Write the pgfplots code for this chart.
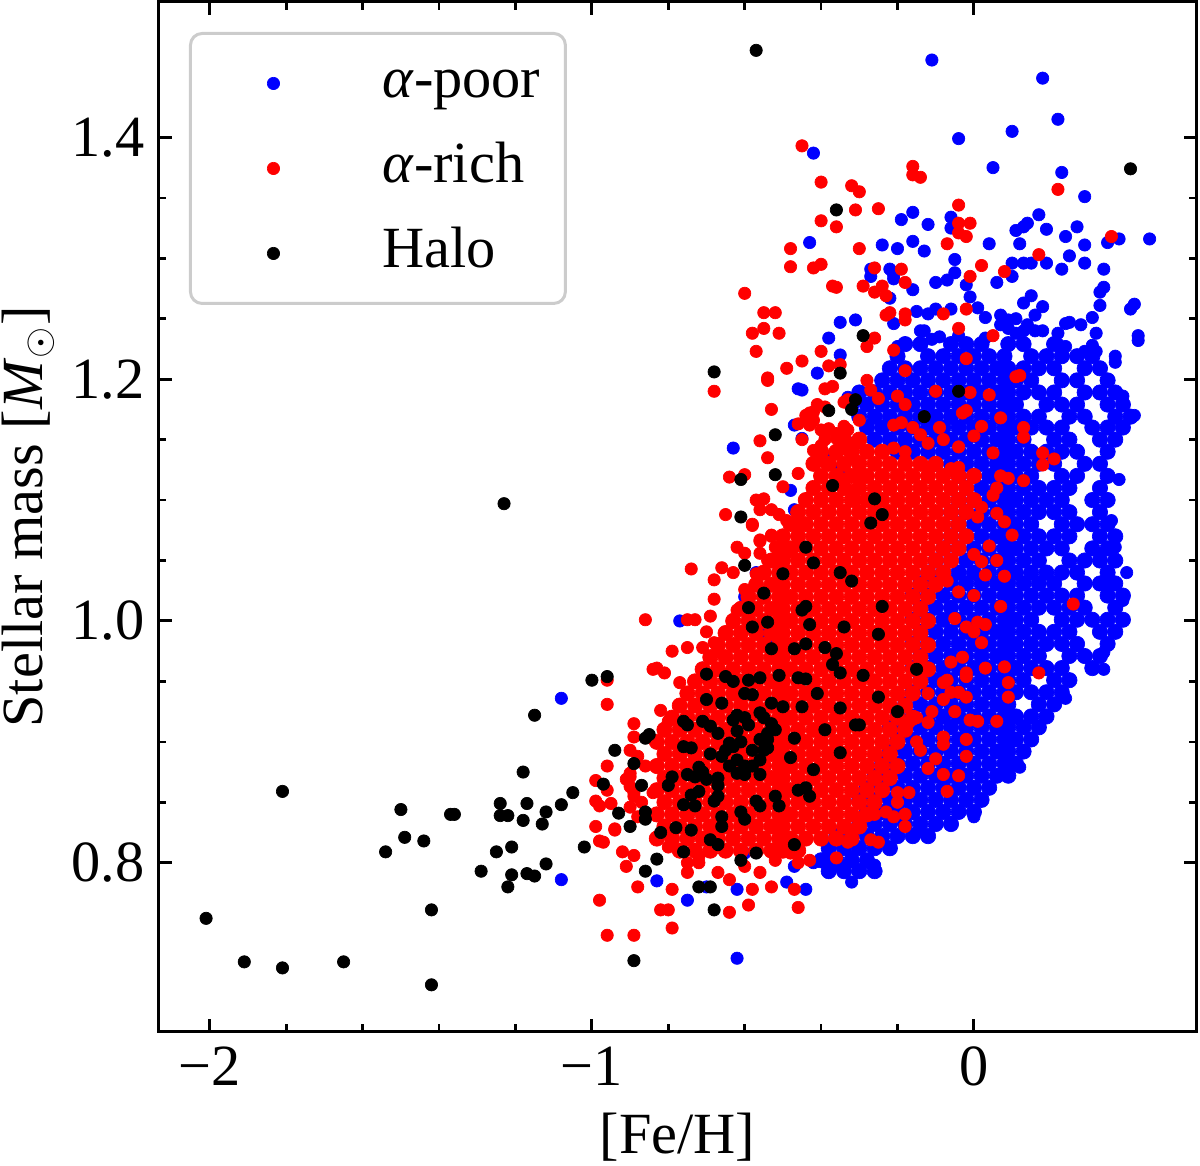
\documentclass[border=0pt]{standalone}
\usepackage{pgfplots}
\pgfplotsset{compat=1.18}
\usepackage{fontspec}
\setmainfont{Liberation Serif}
\definecolor{legedge}{gray}{0.8}
\begin{document}
\fontsize{17.5}{21}\selectfont
\begin{tikzpicture}
\begin{axis}[
  scale only axis, width=311.6pt, height=309pt,
  xmin=-2.135, xmax=0.584, ymin=0.660, ymax=1.512,
  xtick={-2,-1,0}, xticklabels={−2,−1,0},
  ytick={0.8,1.0,1.2,1.4}, yticklabels={0.8,1.0,1.2,1.4},
  minor x tick num=4, minor y tick num=3,
  tick align=inside, tick pos=both,
  major tick length=4pt, minor tick length=2.4pt,
  every major tick/.append style={line width=0.9pt, black},
  every minor tick/.append style={line width=0.75pt, black},
  axis line style={line width=0.9pt},
  xticklabel style={inner sep=0pt, anchor=north, yshift=-4.2pt},
  yticklabel style={inner sep=0pt, anchor=east, xshift=-3.9pt},
  xlabel={[Fe/H]}, ylabel={Stellar mass [\textit{M}$_\odot$]},
  xlabel style={at={(axis description cs:0.5,0)}, anchor=north, inner sep=0pt, yshift=-24pt},
  ylabel style={at={(axis description cs:-0.1256,0.5)}, anchor=center, inner sep=0pt},
  legend image code/.code={\path[draw=none,fill=none] (-17.4pt,0pt) -- (2pt,0pt); \draw[#1] plot coordinates {(0pt,0pt)};},
  legend style={at={(axis description cs:0.0295,0.9709)}, anchor=north west, draw=legedge, line width=0.9pt, rounded corners=3.5pt, fill=white, inner xsep=7.5pt, inner ysep=4.5pt, row sep=4.5pt, column sep=30.7pt, nodes={inner sep=0pt, text depth=}},
  legend cell align=left,
  every axis plot/.append style={only marks, mark=*, mark size=1.85pt, mark options={line width=0.2pt}},
]
% ---------- alpha-poor: dense part
\addplot[color=blue, forget plot, mark size=2.3pt] coordinates {
(-0.18,1.229) (-0.14,1.229) (-0.06,1.229) (-0.02,1.229) (0.02,1.229) (0.09,1.229) (0.13,1.229) (0.21,1.229)
(-0.20,1.219) (-0.12,1.219) (-0.08,1.219) (-0.04,1.219) (0.00,1.219) (0.04,1.219) (0.08,1.219) (0.15,1.219) (0.19,1.219) (0.23,1.219) (0.27,1.219) (0.31,1.219)
(-0.22,1.209) (-0.18,1.209) (-0.14,1.209) (-0.10,1.209) (-0.06,1.209) (-0.02,1.209) (0.02,1.209) (0.06,1.209) (0.09,1.209) (0.13,1.209) (0.17,1.209) (0.21,1.209) (0.29,1.209) (0.33,1.209)
(-0.24,1.199) (-0.20,1.199) (-0.16,1.199) (-0.12,1.199) (-0.08,1.199) (-0.04,1.199) (0.00,1.199) (0.04,1.199) (0.08,1.199) (0.11,1.199) (0.15,1.199) (0.23,1.199) (0.27,1.199) (0.35,1.199)
(-0.30,1.189) (-0.26,1.189) (-0.22,1.189) (-0.18,1.189) (-0.14,1.189) (-0.10,1.189) (-0.06,1.189) (-0.02,1.189) (0.02,1.189) (0.06,1.189) (0.09,1.189) (0.13,1.189) (0.17,1.189) (0.21,1.189) (0.29,1.189) (0.33,1.189) (0.37,1.189)
(-0.32,1.179) (-0.28,1.179) (-0.24,1.179) (-0.20,1.179) (-0.16,1.179) (-0.12,1.179) (-0.08,1.179) (-0.04,1.179) (0.00,1.179) (0.04,1.179) (0.08,1.179) (0.11,1.179) (0.19,1.179) (0.23,1.179) (0.27,1.179) (0.35,1.179) (0.39,1.179)
(-0.30,1.169) (-0.26,1.169) (-0.22,1.169) (-0.18,1.169) (-0.14,1.169) (-0.10,1.169) (-0.06,1.169) (-0.02,1.169) (0.02,1.169) (0.06,1.169) (0.09,1.169) (0.13,1.169) (0.17,1.169) (0.25,1.169) (0.29,1.169) (0.37,1.169) (0.41,1.169)
(-0.28,1.160) (-0.24,1.160) (-0.20,1.160) (-0.16,1.160) (-0.12,1.160) (-0.08,1.160) (-0.04,1.160) (0.00,1.160) (0.04,1.160) (0.08,1.160) (0.11,1.160) (0.15,1.160) (0.19,1.160) (0.23,1.160) (0.31,1.160) (0.35,1.160) (0.39,1.160)
(-0.26,1.150) (-0.22,1.150) (-0.18,1.150) (-0.14,1.150) (-0.10,1.150) (-0.06,1.150) (-0.02,1.150) (0.02,1.150) (0.06,1.150) (0.09,1.150) (0.13,1.150) (0.21,1.150) (0.25,1.150) (0.33,1.150) (0.37,1.150)
(-0.20,1.140) (-0.16,1.140) (-0.12,1.140) (-0.08,1.140) (-0.04,1.140) (0.00,1.140) (0.04,1.140) (0.08,1.140) (0.11,1.140) (0.15,1.140) (0.19,1.140) (0.23,1.140) (0.27,1.140) (0.35,1.140)
(-0.10,1.130) (-0.06,1.130) (-0.02,1.130) (0.02,1.130) (0.06,1.130) (0.09,1.130) (0.13,1.130) (0.17,1.130) (0.21,1.130) (0.29,1.130) (0.33,1.130)
(-0.04,1.120) (0.00,1.120) (0.04,1.120) (0.08,1.120) (0.11,1.120) (0.15,1.120) (0.23,1.120) (0.27,1.120) (0.35,1.120)
(-0.02,1.110) (0.02,1.110) (0.06,1.110) (0.09,1.110) (0.13,1.110) (0.17,1.110) (0.21,1.110) (0.25,1.110) (0.33,1.110)
(-0.04,1.100) (0.00,1.100) (0.04,1.100) (0.08,1.100) (0.11,1.100) (0.15,1.100) (0.19,1.100) (0.23,1.100) (0.31,1.100) (0.35,1.100)
(-0.06,1.090) (-0.02,1.090) (0.02,1.090) (0.06,1.090) (0.09,1.090) (0.13,1.090) (0.17,1.090) (0.21,1.090) (0.25,1.090) (0.33,1.090)
(-0.04,1.080) (0.00,1.080) (0.04,1.080) (0.08,1.080) (0.11,1.080) (0.15,1.080) (0.23,1.080) (0.27,1.080) (0.31,1.080) (0.35,1.080)
(-0.06,1.070) (-0.02,1.070) (0.02,1.070) (0.06,1.070) (0.09,1.070) (0.13,1.070) (0.17,1.070) (0.21,1.070) (0.25,1.070) (0.33,1.070) (0.37,1.070)
(-0.08,1.060) (-0.04,1.060) (0.00,1.060) (0.04,1.060) (0.08,1.060) (0.11,1.060) (0.15,1.060) (0.19,1.060) (0.23,1.060) (0.31,1.060) (0.35,1.060)
(-0.10,1.050) (-0.06,1.050) (-0.02,1.050) (0.02,1.050) (0.06,1.050) (0.09,1.050) (0.13,1.050) (0.17,1.050) (0.25,1.050) (0.29,1.050) (0.33,1.050) (0.37,1.050)
(-0.12,1.040) (-0.08,1.040) (-0.04,1.040) (0.00,1.040) (0.04,1.040) (0.08,1.040) (0.11,1.040) (0.15,1.040) (0.19,1.040) (0.23,1.040) (0.27,1.040) (0.35,1.040)
(-0.14,1.031) (-0.10,1.031) (-0.06,1.031) (-0.02,1.031) (0.02,1.031) (0.06,1.031) (0.09,1.031) (0.13,1.031) (0.17,1.031) (0.21,1.031) (0.29,1.031) (0.33,1.031) (0.37,1.031)
(-0.16,1.021) (-0.12,1.021) (-0.08,1.021) (-0.04,1.021) (0.00,1.021) (0.04,1.021) (0.08,1.021) (0.11,1.021) (0.15,1.021) (0.19,1.021) (0.23,1.021) (0.27,1.021) (0.35,1.021) (0.39,1.021)
(-0.14,1.011) (-0.10,1.011) (-0.06,1.011) (-0.02,1.011) (0.02,1.011) (0.06,1.011) (0.09,1.011) (0.13,1.011) (0.17,1.011) (0.21,1.011) (0.25,1.011) (0.29,1.011) (0.37,1.011)
(-0.16,1.001) (-0.12,1.001) (-0.08,1.001) (-0.04,1.001) (0.00,1.001) (0.04,1.001) (0.08,1.001) (0.11,1.001) (0.15,1.001) (0.23,1.001) (0.27,1.001) (0.31,1.001) (0.35,1.001) (0.39,1.001)
(-0.14,0.991) (-0.10,0.991) (-0.06,0.991) (-0.02,0.991) (0.02,0.991) (0.06,0.991) (0.09,0.991) (0.13,0.991) (0.17,0.991) (0.21,0.991) (0.25,0.991) (0.33,0.991) (0.37,0.991)
(-0.16,0.981) (-0.12,0.981) (-0.08,0.981) (-0.04,0.981) (0.00,0.981) (0.04,0.981) (0.08,0.981) (0.11,0.981) (0.15,0.981) (0.19,0.981) (0.23,0.981) (0.27,0.981) (0.35,0.981)
(-0.14,0.971) (-0.10,0.971) (-0.06,0.971) (-0.02,0.971) (0.02,0.971) (0.06,0.971) (0.09,0.971) (0.13,0.971) (0.17,0.971) (0.25,0.971) (0.29,0.971) (0.33,0.971)
(-0.16,0.961) (-0.12,0.961) (-0.08,0.961) (-0.04,0.961) (0.00,0.961) (0.04,0.961) (0.08,0.961) (0.11,0.961) (0.15,0.961) (0.19,0.961) (0.23,0.961) (0.31,0.961)
(-0.14,0.951) (-0.10,0.951) (-0.06,0.951) (-0.02,0.951) (0.02,0.951) (0.06,0.951) (0.09,0.951) (0.13,0.951) (0.21,0.951) (0.25,0.951)
(-0.16,0.941) (-0.12,0.941) (-0.08,0.941) (-0.04,0.941) (0.00,0.941) (0.04,0.941) (0.08,0.941) (0.11,0.941) (0.15,0.941) (0.19,0.941) (0.23,0.941)
(-0.18,0.931) (-0.14,0.931) (-0.10,0.931) (-0.06,0.931) (-0.02,0.931) (0.02,0.931) (0.06,0.931) (0.09,0.931) (0.17,0.931) (0.21,0.931)
(-0.20,0.921) (-0.16,0.921) (-0.12,0.921) (-0.08,0.921) (-0.04,0.921) (0.00,0.921) (0.04,0.921) (0.08,0.921) (0.11,0.921) (0.15,0.921) (0.19,0.921)
(-0.22,0.912) (-0.18,0.912) (-0.14,0.912) (-0.10,0.912) (-0.06,0.912) (-0.02,0.912) (0.02,0.912) (0.06,0.912) (0.09,0.912) (0.13,0.912) (0.17,0.912)
(-0.20,0.902) (-0.16,0.902) (-0.12,0.902) (-0.08,0.902) (-0.04,0.902) (0.00,0.902) (0.04,0.902) (0.08,0.902) (0.11,0.902) (0.15,0.902)
(-0.22,0.892) (-0.18,0.892) (-0.14,0.892) (-0.10,0.892) (-0.06,0.892) (-0.02,0.892) (0.02,0.892) (0.06,0.892) (0.09,0.892) (0.13,0.892)
(-0.24,0.882) (-0.20,0.882) (-0.16,0.882) (-0.12,0.882) (-0.08,0.882) (-0.04,0.882) (0.00,0.882) (0.04,0.882) (0.08,0.882) (0.11,0.882)
(-0.26,0.872) (-0.22,0.872) (-0.18,0.872) (-0.14,0.872) (-0.10,0.872) (-0.06,0.872) (-0.02,0.872) (0.02,0.872) (0.06,0.872) (0.09,0.872)
(-0.28,0.862) (-0.24,0.862) (-0.20,0.862) (-0.16,0.862) (-0.12,0.862) (-0.08,0.862) (-0.04,0.862) (0.00,0.862) (0.04,0.862)
(-0.30,0.852) (-0.26,0.852) (-0.22,0.852) (-0.18,0.852) (-0.14,0.852) (-0.10,0.852) (-0.06,0.852) (-0.02,0.852) (0.02,0.852)
(-0.28,0.842) (-0.24,0.842) (-0.20,0.842) (-0.16,0.842) (-0.12,0.842) (-0.08,0.842) (-0.04,0.842) (0.00,0.842)
(-0.30,0.832) (-0.26,0.832) (-0.22,0.832) (-0.18,0.832) (-0.14,0.832) (-0.10,0.832) (-0.06,0.832)
(-0.36,0.822) (-0.32,0.822) (-0.28,0.822) (-0.24,0.822) (-0.20,0.822) (-0.16,0.822) (-0.12,0.822)
(-0.38,0.812) (-0.34,0.812) (-0.30,0.812) (-0.26,0.812) (-0.22,0.812)
(-0.40,0.802) (-0.36,0.802) (-0.32,0.802) (-0.28,0.802)
(-0.38,0.793) (-0.34,0.793) (-0.30,0.793) (-0.26,0.793)
};
% ---------- alpha-poor: scattered part
\addplot[color=blue] coordinates {
(-0.11,1.464) (0.18,1.449) (0.22,1.415) (0.10,1.405) (-0.04,1.399) (-0.42,1.387) (0.05,1.375) (0.23,1.371) (0.29,1.351)
(-0.19,1.332) (-0.16,1.338) (-0.12,1.328) (-0.06,1.334) (-0.06,1.325) (0.17,1.336) (0.11,1.323) (0.13,1.326) (0.14,1.329) (0.19,1.324) (0.27,1.326)
(0.24,1.318) (0.29,1.311) (0.35,1.313) (0.38,1.316) (0.46,1.316) (-0.43,1.313) (-0.24,1.311) (-0.20,1.308) (-0.16,1.314) (-0.13,1.306) (0.04,1.312) (0.12,1.312)
(-0.05,1.299) (0.25,1.302) (0.29,1.296) (0.34,1.291) (0.23,1.291) (0.10,1.296) (0.13,1.296) (0.15,1.296) (0.19,1.296) (0.10,1.285) (0.06,1.280)
(-0.05,1.288) (-0.07,1.282) (-0.10,1.280) (-0.02,1.278) (-0.01,1.268) (0.01,1.259) (-0.27,1.291) (-0.27,1.285) (-0.22,1.291) (-0.21,1.286) (-0.21,1.283)
(-0.16,1.274) (-0.22,1.267) (0.34,1.276) (0.33,1.272) (0.33,1.261) (0.41,1.258) (0.13,1.263) (0.15,1.269) (0.18,1.260) (0.16,1.253) (0.31,1.251)
(0.32,1.238) (0.43,1.232) (0.24,1.246) (0.25,1.247) (0.28,1.245) (0.22,1.238) (0.22,1.229) (0.24,1.227) (0.29,1.223) (0.32,1.223) (0.31,1.228) (0.37,1.214)
(-0.15,1.256) (-0.12,1.254) (-0.10,1.258) (-0.06,1.258) (0.03,1.251) (0.07,1.253) (0.09,1.249) (0.11,1.250) (-0.35,1.247) (-0.31,1.249) (-0.21,1.246)
(-0.14,1.240) (-0.13,1.240) (-0.11,1.233) (-0.09,1.235) (-0.04,1.236) (0.02,1.229) (0.03,1.234) (-0.38,1.234) (-0.35,1.220) (-0.41,1.205) (-0.45,1.191)
(-0.20,1.227) (0.07,1.245) (0.09,1.242) (0.11,1.238) (0.13,1.240) (0.14,1.245) (0.16,1.240) (0.18,1.240)
(0.42,1.262) (0.43,1.236) (0.37,1.219) (0.39,1.186) (0.42,1.170) (0.38,1.117) (0.40,1.040) (0.39,1.017) (0.34,0.974) (0.36,1.083) (0.37,1.061) (0.36,1.033) (0.35,1.024) (0.33,1.055)
(-1.08,0.936) (-1.08,0.786) (-0.62,0.721) (-0.46,1.192) (-0.47,1.162) (-0.45,1.151) (-0.42,1.131) (-0.39,1.136) (-0.35,1.126) (-0.33,1.185) (-0.32,1.147)
(-0.63,1.143) (-0.48,1.108) (-0.47,1.092) (-0.46,1.078) (-0.42,1.069) (-0.57,1.040) (-0.60,1.020) (-0.56,0.990) (-0.53,0.987) (-0.77,1.000) (-0.71,0.961)
(-0.83,0.785) (-0.75,0.769) (-0.70,0.780) (-0.62,0.778) (-0.49,0.784) (-0.44,0.778) (-0.32,0.784) (-0.60,0.808) (-0.32,0.805) (-0.35,0.798) (-0.38,0.802)
(-0.42,0.800) (-0.47,0.797) (0.00,0.838) (-0.15,0.825) (-0.26,0.798) (0.24,0.936) (0.34,0.960) (0.12,0.879) (0.08,0.887)
};
\addlegendentry{\strut\textit{α}-poor}
% ---------- alpha-rich: dense part
\addplot[color=red, forget plot, mark size=2.3pt] coordinates {
(-0.34,1.150) (-0.30,1.150)
(-0.40,1.140) (-0.36,1.140) (-0.32,1.140) (-0.28,1.140) (-0.24,1.140)
(-0.42,1.130) (-0.38,1.130) (-0.34,1.130) (-0.30,1.130) (-0.26,1.130) (-0.22,1.130) (-0.18,1.130) (-0.14,1.130) (-0.10,1.130)
(-0.40,1.120) (-0.36,1.120) (-0.32,1.120) (-0.28,1.120) (-0.24,1.120) (-0.20,1.120) (-0.16,1.120) (-0.12,1.120) (-0.08,1.120) (-0.04,1.120) (0.00,1.120)
(-0.42,1.110) (-0.38,1.110) (-0.34,1.110) (-0.30,1.110) (-0.26,1.110) (-0.22,1.110) (-0.18,1.110) (-0.14,1.110) (-0.10,1.110) (-0.06,1.110) (-0.02,1.110)
(-0.44,1.100) (-0.40,1.100) (-0.36,1.100) (-0.32,1.100) (-0.28,1.100) (-0.24,1.100) (-0.20,1.100) (-0.16,1.100) (-0.12,1.100) (-0.08,1.100) (-0.04,1.100) (0.00,1.100)
(-0.46,1.090) (-0.42,1.090) (-0.38,1.090) (-0.34,1.090) (-0.30,1.090) (-0.26,1.090) (-0.22,1.090) (-0.18,1.090) (-0.14,1.090) (-0.10,1.090) (-0.06,1.090) (-0.02,1.090)
(-0.48,1.080) (-0.44,1.080) (-0.40,1.080) (-0.36,1.080) (-0.32,1.080) (-0.28,1.080) (-0.24,1.080) (-0.20,1.080) (-0.16,1.080) (-0.12,1.080) (-0.08,1.080) (-0.04,1.080)
(-0.50,1.070) (-0.46,1.070) (-0.42,1.070) (-0.38,1.070) (-0.34,1.070) (-0.30,1.070) (-0.26,1.070) (-0.22,1.070) (-0.18,1.070) (-0.14,1.070) (-0.10,1.070) (-0.06,1.070) (-0.02,1.070)
(-0.51,1.060) (-0.48,1.060) (-0.44,1.060) (-0.40,1.060) (-0.36,1.060) (-0.32,1.060) (-0.28,1.060) (-0.24,1.060) (-0.20,1.060) (-0.16,1.060) (-0.12,1.060) (-0.08,1.060) (-0.04,1.060)
(-0.53,1.050) (-0.50,1.050) (-0.46,1.050) (-0.42,1.050) (-0.38,1.050) (-0.34,1.050) (-0.30,1.050) (-0.26,1.050) (-0.22,1.050) (-0.18,1.050) (-0.14,1.050) (-0.10,1.050) (-0.06,1.050)
(-0.55,1.040) (-0.51,1.040) (-0.48,1.040) (-0.44,1.040) (-0.40,1.040) (-0.36,1.040) (-0.32,1.040) (-0.28,1.040) (-0.24,1.040) (-0.20,1.040) (-0.16,1.040) (-0.12,1.040) (-0.08,1.040)
(-0.57,1.030) (-0.53,1.030) (-0.50,1.030) (-0.46,1.030) (-0.42,1.030) (-0.38,1.030) (-0.34,1.030) (-0.30,1.030) (-0.26,1.030) (-0.22,1.030) (-0.18,1.030) (-0.14,1.030) (-0.10,1.030)
(-0.59,1.020) (-0.55,1.020) (-0.51,1.020) (-0.48,1.020) (-0.44,1.020) (-0.40,1.020) (-0.36,1.020) (-0.32,1.020) (-0.28,1.020) (-0.24,1.020) (-0.20,1.020) (-0.16,1.020) (-0.12,1.020)
(-0.61,1.010) (-0.57,1.010) (-0.53,1.010) (-0.50,1.010) (-0.46,1.010) (-0.42,1.010) (-0.38,1.010) (-0.34,1.010) (-0.30,1.010) (-0.26,1.010) (-0.22,1.010) (-0.18,1.010) (-0.14,1.010)
(-0.63,1.000) (-0.59,1.000) (-0.55,1.000) (-0.51,1.000) (-0.48,1.000) (-0.44,1.000) (-0.40,1.000) (-0.36,1.000) (-0.32,1.000) (-0.28,1.000) (-0.24,1.000) (-0.20,1.000) (-0.16,1.000) (-0.12,1.000)
(-0.65,0.990) (-0.61,0.990) (-0.57,0.990) (-0.53,0.990) (-0.50,0.990) (-0.46,0.990) (-0.42,0.990) (-0.38,0.990) (-0.34,0.990) (-0.30,0.990) (-0.26,0.990) (-0.22,0.990) (-0.18,0.990) (-0.14,0.990)
(-0.67,0.980) (-0.63,0.980) (-0.59,0.980) (-0.55,0.980) (-0.51,0.980) (-0.48,0.980) (-0.44,0.980) (-0.40,0.980) (-0.36,0.980) (-0.32,0.980) (-0.28,0.980) (-0.24,0.980) (-0.20,0.980) (-0.16,0.980) (-0.12,0.980)
(-0.69,0.970) (-0.65,0.970) (-0.61,0.970) (-0.57,0.970) (-0.53,0.970) (-0.50,0.970) (-0.46,0.970) (-0.42,0.970) (-0.38,0.970) (-0.34,0.970) (-0.30,0.970) (-0.26,0.970) (-0.22,0.970) (-0.18,0.970) (-0.14,0.970)
(-0.71,0.960) (-0.67,0.960) (-0.63,0.960) (-0.59,0.960) (-0.55,0.960) (-0.51,0.960) (-0.48,0.960) (-0.44,0.960) (-0.40,0.960) (-0.36,0.960) (-0.32,0.960) (-0.28,0.960) (-0.24,0.960) (-0.20,0.960) (-0.16,0.960) (-0.12,0.960)
(-0.73,0.950) (-0.69,0.950) (-0.65,0.950) (-0.61,0.950) (-0.57,0.950) (-0.53,0.950) (-0.50,0.950) (-0.46,0.950) (-0.42,0.950) (-0.38,0.950) (-0.34,0.950) (-0.30,0.950) (-0.26,0.950) (-0.22,0.950) (-0.18,0.950) (-0.14,0.950)
(-0.75,0.940) (-0.71,0.940) (-0.67,0.940) (-0.63,0.940) (-0.59,0.940) (-0.55,0.940) (-0.51,0.940) (-0.48,0.940) (-0.44,0.940) (-0.40,0.940) (-0.36,0.940) (-0.32,0.940) (-0.28,0.940) (-0.24,0.940) (-0.20,0.940) (-0.16,0.940)
(-0.77,0.930) (-0.73,0.930) (-0.69,0.930) (-0.65,0.930) (-0.61,0.930) (-0.57,0.930) (-0.53,0.930) (-0.50,0.930) (-0.46,0.930) (-0.42,0.930) (-0.38,0.930) (-0.34,0.930) (-0.30,0.930) (-0.26,0.930) (-0.22,0.930) (-0.18,0.930)
(-0.79,0.920) (-0.75,0.920) (-0.71,0.920) (-0.67,0.920) (-0.63,0.920) (-0.59,0.920) (-0.55,0.920) (-0.51,0.920) (-0.48,0.920) (-0.44,0.920) (-0.40,0.920) (-0.36,0.920) (-0.32,0.920) (-0.28,0.920) (-0.24,0.920) (-0.20,0.920) (-0.16,0.920)
(-0.81,0.910) (-0.77,0.910) (-0.73,0.910) (-0.69,0.910) (-0.65,0.910) (-0.61,0.910) (-0.57,0.910) (-0.53,0.910) (-0.50,0.910) (-0.46,0.910) (-0.42,0.910) (-0.38,0.910) (-0.34,0.910) (-0.30,0.910) (-0.26,0.910) (-0.22,0.910) (-0.18,0.910)
(-0.83,0.900) (-0.79,0.900) (-0.75,0.900) (-0.71,0.900) (-0.67,0.900) (-0.63,0.900) (-0.59,0.900) (-0.55,0.900) (-0.51,0.900) (-0.48,0.900) (-0.44,0.900) (-0.40,0.900) (-0.36,0.900) (-0.32,0.900) (-0.28,0.900) (-0.24,0.900) (-0.20,0.900)
(-0.81,0.890) (-0.77,0.890) (-0.73,0.890) (-0.69,0.890) (-0.65,0.890) (-0.61,0.890) (-0.57,0.890) (-0.53,0.890) (-0.50,0.890) (-0.46,0.890) (-0.42,0.890) (-0.38,0.890) (-0.34,0.890) (-0.30,0.890) (-0.26,0.890) (-0.22,0.890)
(-0.83,0.880) (-0.79,0.880) (-0.75,0.880) (-0.71,0.880) (-0.67,0.880) (-0.63,0.880) (-0.59,0.880) (-0.55,0.880) (-0.51,0.880) (-0.48,0.880) (-0.44,0.880) (-0.40,0.880) (-0.36,0.880) (-0.32,0.880) (-0.28,0.880) (-0.24,0.880) (-0.20,0.880)
(-0.81,0.870) (-0.77,0.870) (-0.73,0.870) (-0.69,0.870) (-0.65,0.870) (-0.61,0.870) (-0.57,0.870) (-0.53,0.870) (-0.50,0.870) (-0.46,0.870) (-0.42,0.870) (-0.38,0.870) (-0.34,0.870) (-0.30,0.870) (-0.26,0.870) (-0.22,0.870)
(-0.83,0.860) (-0.79,0.860) (-0.75,0.860) (-0.71,0.860) (-0.67,0.860) (-0.63,0.860) (-0.59,0.860) (-0.55,0.860) (-0.51,0.860) (-0.48,0.860) (-0.44,0.860) (-0.40,0.860) (-0.36,0.860) (-0.32,0.860) (-0.28,0.860) (-0.24,0.860)
(-0.81,0.850) (-0.77,0.850) (-0.73,0.850) (-0.69,0.850) (-0.65,0.850) (-0.61,0.850) (-0.57,0.850) (-0.53,0.850) (-0.50,0.850) (-0.46,0.850) (-0.42,0.850) (-0.38,0.850) (-0.34,0.850) (-0.30,0.850) (-0.26,0.850)
(-0.83,0.840) (-0.79,0.840) (-0.75,0.840) (-0.71,0.840) (-0.67,0.840) (-0.63,0.840) (-0.59,0.840) (-0.55,0.840) (-0.51,0.840) (-0.48,0.840) (-0.44,0.840) (-0.40,0.840) (-0.36,0.840) (-0.32,0.840) (-0.28,0.840)
(-0.81,0.830) (-0.77,0.830) (-0.73,0.830) (-0.69,0.830) (-0.65,0.830) (-0.61,0.830) (-0.57,0.830) (-0.53,0.830) (-0.50,0.830) (-0.46,0.830) (-0.42,0.830) (-0.38,0.830) (-0.34,0.830) (-0.30,0.830)
(-0.83,0.820) (-0.79,0.820) (-0.75,0.820) (-0.71,0.820) (-0.67,0.820) (-0.63,0.820) (-0.59,0.820) (-0.55,0.820) (-0.51,0.820) (-0.48,0.820) (-0.44,0.820) (-0.40,0.820) (-0.36,0.820) (-0.32,0.820)
(-0.77,0.810) (-0.73,0.810) (-0.69,0.810) (-0.65,0.810) (-0.61,0.810) (-0.57,0.810) (-0.53,0.810) (-0.50,0.810) (-0.46,0.810)
};
% ---------- alpha-rich: scattered part
\addplot[color=red] coordinates {
(-0.45,1.393) (-0.16,1.376) (-0.16,1.369) (-0.14,1.367) (-0.40,1.363) (-0.32,1.360) (-0.30,1.355) (0.22,1.357) (-0.04,1.344) (-0.31,1.340) (-0.25,1.341)
(-0.40,1.331) (-0.36,1.326) (-0.04,1.329) (-0.01,1.329) (-0.04,1.321) (-0.02,1.318) (0.36,1.318) (-0.07,1.312) (-0.48,1.308) (-0.30,1.308) (0.17,1.303)
(-0.48,1.293) (-0.42,1.292) (-0.40,1.295) (0.02,1.294) (0.08,1.289) (-0.26,1.292) (-0.19,1.291) (-0.18,1.280) (-0.01,1.285) (-0.37,1.277) (-0.36,1.276)
(-0.29,1.277) (-0.26,1.272) (-0.24,1.277) (-0.23,1.269) (-0.60,1.271) (-0.55,1.255) (-0.52,1.255) (-0.58,1.238) (-0.55,1.242) (-0.51,1.238) (-0.57,1.223)
(-0.54,1.201) (-0.49,1.209) (-0.45,1.215) (-0.40,1.223) (-0.38,1.211) (-0.35,1.212) (-0.68,1.190) (-0.39,1.192) (-0.37,1.194) (-0.23,1.253) (-0.22,1.255)
(-0.18,1.254) (-0.18,1.249) (-0.08,1.254) (-0.02,1.258) (-0.04,1.242) (0.05,1.236) (-0.26,1.234) (-0.28,1.227) (-0.21,1.224) (-0.02,1.217) (-0.18,1.207)
(0.11,1.202) (0.12,1.203) (-0.28,1.199) (-0.10,1.190) (-0.01,1.189) (0.04,1.187) (-0.20,1.186) (-0.25,1.184) (-0.33,1.183)
(-0.54,1.199) (-0.53,1.175) (-0.56,1.149) (-0.54,1.135) (-0.46,1.122) (-0.64,1.119) (-0.60,1.121) (-0.65,1.088) (-0.58,1.080) (-0.56,1.066) (-0.53,1.070)
(-0.62,1.061) (-0.60,1.056) (-0.56,1.056) (-0.54,1.050) (-0.74,1.043) (-0.66,1.044) (-0.63,1.040) (-0.68,1.034) (-0.57,1.039) (-0.68,1.018) (-0.60,1.026)
(-0.59,1.021) (-0.86,1.001) (-0.75,1.001) (-0.73,1.001) (-0.69,1.004) (-0.62,1.009) (-0.63,1.001) (-0.70,0.991) (-0.79,0.975) (-0.75,0.978) (-0.71,0.978)
(-0.68,0.982) (-0.67,0.976) (-0.83,0.961) (-0.81,0.957)
(-0.41,1.179) (-0.39,1.177) (-0.43,1.172) (-0.44,1.166) (-0.42,1.166) (-0.45,1.150) (-0.42,1.141) (-0.40,1.145) (-0.39,1.155) (-0.36,1.151) (-0.34,1.161)
(-0.33,1.158) (-0.34,1.181) (-0.50,1.111) (-0.57,1.100) (-0.55,1.101) (-0.56,1.092) (-0.53,1.092) (-0.51,1.088) (-0.49,1.083) (-0.46,1.081) (-0.58,1.079)
(-0.53,1.071) (-0.56,1.067) (-0.52,1.061) (-0.49,1.056) (-0.47,1.061)
(-0.44,1.170) (-0.42,1.173) (-0.46,1.163) (-0.43,1.162) (-0.40,1.158) (-0.38,1.159) (-0.36,1.155) (-0.39,1.150) (-0.41,1.136) (-0.39,1.131) (-0.36,1.138)
(-0.33,1.141) (-0.31,1.133) (-0.34,1.117) (-0.32,1.108) (-0.31,1.100) (-0.30,1.119)
(-0.84,0.960) (-0.77,0.949) (-0.82,0.926) (-0.80,0.917) (-0.90,0.893) (-0.90,0.874) (-0.91,0.869) (-0.89,0.858) (-0.84,0.858) (-0.90,0.846) (-0.87,0.850)
(-0.88,0.838) (-0.94,0.827) (-0.79,0.778) (-0.75,0.792) (-0.72,0.800) (-0.58,0.778) (-0.53,0.780) (-0.47,0.778) (-0.46,0.763) (-0.59,0.765) (-0.64,0.759)
(-0.82,0.761) (-0.80,0.761) (-0.79,0.746) (-0.52,0.802) (-0.48,0.808) (-0.46,0.800) (-0.43,0.802) (-0.36,0.804) (-0.33,0.817) (-0.32,0.825) (-0.72,0.805)
(-0.75,0.800) (-0.80,0.813) (-0.60,0.797) (-0.56,0.792) (-0.67,0.792) (-0.64,0.786)
(-0.96,0.931) (-0.96,0.951) (-0.89,0.915) (-0.89,0.904) (-0.96,0.880) (-0.99,0.868) (-0.96,0.860) (-0.99,0.851) (-0.98,0.847) (-0.95,0.849) (-0.99,0.830)
(-0.94,0.828) (-0.98,0.818) (-0.97,0.817) (-0.92,0.809) (-0.89,0.806) (-0.91,0.797) (-0.88,0.780) (-0.98,0.769) (-0.96,0.740) (-0.89,0.740)
(-0.90,0.871) (-0.90,0.863) (-0.89,0.855) (-0.88,0.888) (-0.86,0.880)
(-0.02,0.954) (0.03,0.961) (0.08,0.962) (0.17,0.957) (0.09,0.949) (0.09,0.937) (0.06,0.917) (-0.01,0.918) (0.01,0.917) (-0.06,0.941) (-0.04,0.941)
(-0.02,0.937) (-0.08,0.949) (-0.05,0.925) (-0.08,0.904) (-0.08,0.898) (-0.02,0.902) (-0.02,0.888) (-0.10,0.886) (-0.12,0.878) (-0.08,0.873) (-0.04,0.872)
(-0.07,0.859) (-0.17,0.858) (-0.20,0.858) (-0.20,0.850) (-0.18,0.840) (-0.18,0.830) (-0.21,0.838) (-0.23,0.842) (-0.26,0.840) (-0.29,0.838) (-0.32,0.827)
(-0.32,0.821) (-0.27,0.819) (-0.25,0.817) (-0.15,0.900) (-0.14,0.893) (-0.11,0.925) (-0.12,0.916) (-0.15,0.920) (-0.17,0.916) (-0.08,0.935) (-0.12,0.940) (-0.07,0.951)
(0.07,1.168) (0.02,1.161) (0.00,1.153) (-0.04,1.144) (-0.08,1.150) (-0.09,1.160) (-0.03,1.172) (-0.02,1.174) (-0.21,1.162) (-0.21,1.143) (-0.18,1.140)
(-0.18,1.133) (-0.12,1.147) (-0.14,1.154) (-0.16,1.160) (-0.19,1.164) (-0.18,1.179) (-0.27,1.191) (-0.12,1.127) (-0.10,1.129) (-0.06,1.126) (-0.04,1.127)
(0.13,1.160) (0.13,1.152) (0.05,1.139) (0.18,1.139) (0.21,1.134) (0.18,1.129) (0.07,1.120) (0.09,1.118) (0.13,1.116) (0.06,1.110) (0.05,1.104)
(0.02,1.094) (0.01,1.086) (0.06,1.089) (0.08,1.082) (0.10,1.071) (0.04,1.062) (0.00,1.055) (0.02,1.049) (0.06,1.050) (0.03,1.038) (0.08,1.037)
(-0.07,1.033) (-0.04,1.024) (0.00,1.021) (0.07,1.012) (0.26,1.014) (-0.05,1.002) (0.01,0.999) (-0.02,0.995) (0.03,0.997) (0.00,0.991) (0.02,0.982)
(-0.03,0.970) (-0.06,0.966) (-0.02,0.957) (-0.30,1.166) (-0.31,1.146)
};
\addlegendentry{\strut\textit{α}-rich}
% ---------- Halo
\addplot[color=black] coordinates {
(-1.00,0.951) (-0.96,0.954) (-1.15,0.922) (-0.94,0.893) (-1.18,0.875) (-1.81,0.859) (-0.89,0.882) (-0.97,0.865) (-0.87,0.864) (-1.05,0.858) (-1.24,0.849)
(-1.17,0.849) (-1.08,0.848) (-1.50,0.844) (-1.12,0.842) (-1.37,0.840) (-1.36,0.840) (-1.24,0.839) (-1.22,0.839) (-0.93,0.841) (-0.86,0.842) (-0.86,0.836)
(-1.18,0.835) (-1.13,0.832) (-0.90,0.830) (-1.49,0.821) (-1.44,0.818) (-1.54,0.809) (-1.21,0.813) (-1.25,0.809) (-1.02,0.813) (-1.12,0.799) (-1.29,0.793)
(-1.21,0.790) (-1.17,0.791) (-1.15,0.789) (-1.22,0.780) (-0.86,0.793) (-1.42,0.761) (-2.01,0.754) (-1.91,0.718) (-1.81,0.713) (-1.65,0.718) (-1.42,0.699)
(-0.89,0.719) (-1.23,1.097)
(-0.83,0.803) (-0.82,0.825) (-0.86,0.903) (-0.85,0.906) (-0.76,0.917) (-0.75,0.914) (-0.70,0.935) (-0.70,0.956) (-0.65,0.954) (-0.63,0.950) (-0.59,0.951)
(-0.56,0.953) (-0.60,0.940) (-0.58,0.939) (-0.66,0.932) (-0.71,0.917) (-0.69,0.913) (-0.67,0.907) (-0.76,0.896) (-0.74,0.895) (-0.69,0.890) (-0.66,0.888)
(-0.65,0.893) (-0.63,0.896) (-0.61,0.900) (-0.62,0.885) (-0.60,0.880)
(-0.63,0.918) (-0.62,0.922) (-0.60,0.920) (-0.59,0.914) (-0.56,0.924) (-0.55,0.920) (-0.53,0.915) (-0.52,0.910) (-0.54,0.907) (-0.56,0.902) (-0.58,0.893)
(-0.56,0.885) (-0.54,0.895) (-0.64,0.899) (-0.62,0.909) (-0.64,0.880) (-0.62,0.874) (-0.60,0.873) (-0.58,0.880) (-0.56,0.873) (-0.55,0.893) (-0.54,0.902)
(-0.53,0.932) (-0.50,0.929) (-0.45,0.929) (-0.51,0.955) (-0.46,0.953) (-0.44,0.952) (-0.41,0.940) (-0.35,0.957) (-0.37,0.964) (-0.35,0.928) (-0.31,0.914)
(-0.39,0.910) (-0.47,0.903) (-0.48,0.887) (-0.42,0.877) (-0.35,0.891) (-0.46,0.860) (-0.44,0.862) (-0.43,0.855) (-0.52,0.855) (-0.51,0.847) (-0.57,0.851)
(-0.56,0.847) (-0.61,0.842) (-0.60,0.836) (-0.66,0.838) (-0.66,0.830) (-0.68,0.851) (-0.67,0.855) (-0.74,0.856) (-0.72,0.859) (-0.73,0.847) (-0.76,0.848)
(-0.79,0.871) (-0.80,0.864) (-0.75,0.873) (-0.73,0.871) (-0.71,0.875) (-0.70,0.869) (-0.67,0.870) (-0.67,0.864) (-0.72,0.879) (-0.78,0.829) (-0.74,0.827)
(-0.69,0.819) (-0.67,0.815) (-0.76,0.809) (-0.57,0.808) (-0.61,0.802) (-0.47,0.815) (-0.72,0.780) (-0.69,0.780) (-0.68,0.761)
(-0.38,1.174) (-0.52,1.154) (-0.52,1.121) (-0.61,1.117) (-0.37,1.112) (-0.61,1.086) (-0.44,1.061) (-0.42,1.048) (-0.60,1.046) (-0.50,1.039) (-0.35,1.040)
(-0.32,1.033) (-0.55,1.023) (-0.59,1.011) (-0.44,1.012) (-0.45,1.009) (-0.54,0.999) (-0.58,0.995) (-0.43,0.997) (-0.34,0.995) (-0.53,0.977) (-0.47,0.977)
(-0.44,0.981) (-0.39,0.978) (-0.36,0.973) (-0.31,1.183) (-0.32,1.175)
(-0.04,1.190) (-0.13,1.169) (-0.26,1.101) (-0.24,1.088) (-0.27,1.081) (-0.24,1.012) (-0.25,0.989) (-0.15,0.960) (-0.29,0.955) (-0.25,0.937) (-0.20,0.925) (-0.30,0.914)
(-0.57,1.472) (0.41,1.374) (-0.36,1.340) (-0.29,1.236) (-0.68,1.206) (-0.35,1.205)
};
\addlegendentry{\strut Halo}
\end{axis}
\pgfresetboundingbox
\path ([xshift=-47.5pt,yshift=-40.2pt]current axis.south west) rectangle ([xshift=0.9pt,yshift=0.6pt]current axis.north east);
\end{tikzpicture}
\end{document}
